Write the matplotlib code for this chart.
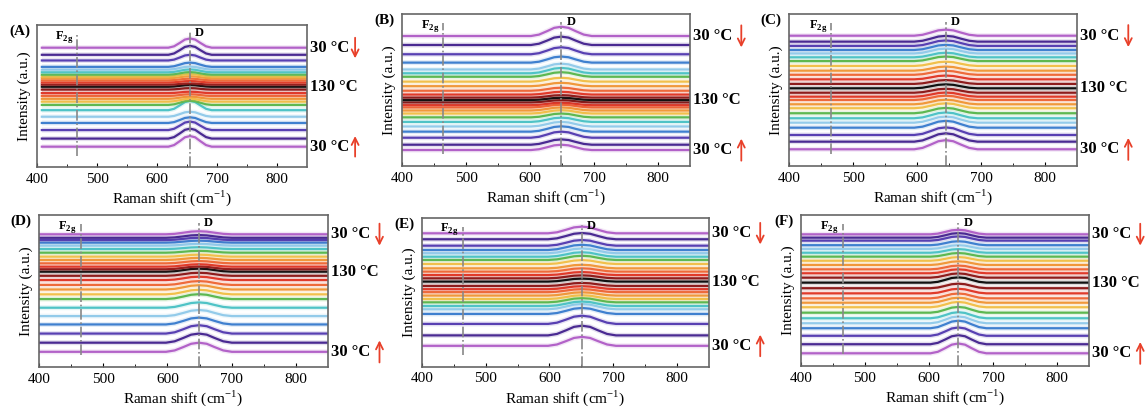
import matplotlib
matplotlib.use("Agg")
import matplotlib.pyplot as plt
import numpy as np

plt.rcParams['font.family'] = ['Liberation Serif', 'DejaVu Serif']
plt.rcParams['mathtext.fontset'] = 'custom'
plt.rcParams['mathtext.rm'] = 'Liberation Serif'
plt.rcParams['mathtext.bf'] = 'Liberation Serif:bold'

# panel letters and axes placement (figure fractions)
panels = ['(A)', '(B)', '(C)', '(D)', '(E)', '(F)']
boxes = [
    [0.0323, 0.5947, 0.2354, 0.3447],
    [0.3505, 0.5971, 0.2511, 0.3690],
    [0.6879, 0.5971, 0.2511, 0.3690],
    [0.0340, 0.1092, 0.2520, 0.3690],
    [0.3677, 0.1100, 0.2505, 0.3617],
    [0.6983, 0.1117, 0.2511, 0.3665],
]

# one colour per step, 30 C -> 130 C (black)
step_colors = ['#b262c8', '#4a2a92', '#5840b2', '#3f80cf', '#93cbea', '#4fc3c6',
               '#5db851', '#f1c04c', '#f0983b', '#ee6a3a', '#e03a2a', '#8e1c1c', '#111111']

# D-band position and F2g position read per panel (cm-1)
d_pos = [655, 649, 645, 649, 651, 646]
f2g_pos = [466, 464, 466, 465, 464, 465]
peak_width = [0.95, 1.25, 1.3, 1.35, 1.4, 1.15]

# baseline of each trace (axes fraction), heating bottom->130, then cooling 120->30
heat_A = [0.143, 0.20, 0.26, 0.31, 0.354, 0.40, 0.437, 0.46, 0.48, 0.50, 0.52, 0.545, 0.565]
cool_A = [0.58, 0.595, 0.61, 0.625, 0.638, 0.65, 0.667, 0.685, 0.705, 0.75, 0.79, 0.84]
heat_B = [0.105, 0.14, 0.186, 0.226, 0.26, 0.29, 0.32, 0.345, 0.365, 0.385, 0.40, 0.418, 0.434]
cool_B = [0.45, 0.47, 0.495, 0.525, 0.555, 0.587, 0.61, 0.635, 0.68, 0.735, 0.796, 0.855]
heat_C = [0.11, 0.16, 0.204, 0.252, 0.285, 0.314, 0.347, 0.38, 0.406, 0.434, 0.456, 0.482, 0.511]
cool_C = [0.54, 0.57, 0.60, 0.627, 0.658, 0.69, 0.715, 0.74, 0.763, 0.79, 0.818, 0.857]
heat_D = [0.10, 0.16, 0.22, 0.28, 0.335, 0.39, 0.447, 0.478, 0.51, 0.54, 0.572, 0.60, 0.627]
cool_D = [0.643, 0.66, 0.682, 0.704, 0.726, 0.752, 0.776, 0.798, 0.818, 0.835, 0.85, 0.873]
heat_E = [0.14, 0.21, 0.287, 0.354, 0.385, 0.407, 0.432, 0.454, 0.477, 0.50, 0.52, 0.542, 0.571]
cool_E = [0.593, 0.615, 0.638, 0.66, 0.689, 0.716, 0.738, 0.761, 0.783, 0.812, 0.855, 0.895]
heat_F = [0.084, 0.144, 0.20, 0.25, 0.283, 0.316, 0.353, 0.389, 0.419, 0.448, 0.481, 0.515, 0.552]
cool_F = [0.585, 0.614, 0.64, 0.669, 0.697, 0.724, 0.75, 0.775, 0.80, 0.83, 0.85, 0.872]

# D-band peak height above baseline (axes fraction)
amp_heat_A = [0.075, 0.07, 0.06, 0.04, 0.035, 0.065, 0.03, 0.02, 0.015, 0.012, 0.01, 0.01, 0.012]
amp_cool_A = [0.008, 0.01, 0.012, 0.014, 0.016, 0.018, 0.02, 0.022, 0.03, 0.04, 0.063, 0.065]
amp_heat_B = [0.035, 0.035, 0.04, 0.035, 0.03, 0.028, 0.025, 0.022, 0.02, 0.018, 0.016, 0.015, 0.015]
amp_cool_B = [0.016, 0.018, 0.02, 0.022, 0.025, 0.03, 0.035, 0.038, 0.04, 0.046, 0.055, 0.061]
amp_heat_C = [0.06, 0.055, 0.05, 0.045, 0.04, 0.038, 0.035, 0.032, 0.03, 0.028, 0.027, 0.026, 0.026]
amp_cool_C = [0.025, 0.025, 0.026, 0.027, 0.028, 0.03, 0.03, 0.032, 0.034, 0.036, 0.038, 0.04]
amp_heat_D = [0.06, 0.06, 0.055, 0.045, 0.04, 0.035, 0.032, 0.03, 0.028, 0.025, 0.022, 0.02, 0.02]
amp_cool_D = [0.018, 0.016, 0.015, 0.014, 0.013, 0.012, 0.012, 0.012, 0.013, 0.015, 0.018, 0.02]
amp_heat_E = [0.06, 0.065, 0.055, 0.04, 0.035, 0.03, 0.028, 0.025, 0.022, 0.02, 0.02, 0.02, 0.02]
amp_cool_E = [0.02, 0.02, 0.022, 0.024, 0.026, 0.028, 0.03, 0.032, 0.035, 0.038, 0.042, 0.045]
amp_heat_F = [0.065, 0.06, 0.055, 0.05, 0.045, 0.04, 0.038, 0.035, 0.033, 0.032, 0.03, 0.03, 0.035]
amp_cool_F = [0.028, 0.026, 0.025, 0.024, 0.024, 0.024, 0.024, 0.025, 0.026, 0.028, 0.03, 0.03]

# D-band shape: offset from centre (cm-1) and relative height
shape_dx = [-260, -38, -28, -18, -9, 0, 9, 18, 28, 38, 260]
shape_rel = [0.0, 0.0, 0.15, 0.52, 0.88, 1.0, 0.88, 0.52, 0.15, 0.0, 0.0]

heat_all = [heat_A, heat_B, heat_C, heat_D, heat_E, heat_F]
cool_all = [cool_A, cool_B, cool_C, cool_D, cool_E, cool_F]
amp_heat_all = [amp_heat_A, amp_heat_B, amp_heat_C, amp_heat_D, amp_heat_E, amp_heat_F]
amp_cool_all = [amp_cool_A, amp_cool_B, amp_cool_C, amp_cool_D, amp_cool_E, amp_cool_F]

arrow_red = '#e8402a'
arrow_style = dict(arrowstyle='->,head_length=0.5,head_width=0.25', color=arrow_red,
                   lw=1.3, shrinkA=0, shrinkB=0)

fig = plt.figure(figsize=(11.47, 4.12), dpi=100)

for i, name in enumerate(panels):
    ax = fig.add_axes(boxes[i])
    xs = d_pos[i] + np.array(shape_dx) * peak_width[i]
    rel = np.array(shape_rel)

    # heating traces then cooling traces (colour order reversed)
    traces = []
    for k, y0 in enumerate(heat_all[i]):
        traces.append((y0, amp_heat_all[i][k], step_colors[k]))
    for k, y0 in enumerate(cool_all[i]):
        traces.append((y0, amp_cool_all[i][k], step_colors[11 - k]))

    for y0, a, c in traces:
        ys = y0 + a * rel
        ax.plot(xs, ys, color=c, lw=3.6, alpha=0.15, solid_capstyle='butt')
        ax.plot(xs, ys, color=c, lw=1.6)

    # reference band positions
    ax.axvline(f2g_pos[i], ymin=0.08, ymax=0.94, color='#888888', ls='-.', lw=1.2)
    ax.axvline(d_pos[i], ymin=0.0, ymax=0.95, color='#888888', ls='-.', lw=1.2)
    ax.text(f2g_pos[i] - 6, 0.975, r'F$_{\mathbf{2g}}$', ha='right', va='top',
            fontsize=9, fontweight='bold')
    ax.text(d_pos[i] + 8, 0.985, 'D', ha='left', va='top', fontsize=9, fontweight='bold')

    ax.set_xlim(400, 850)
    ax.set_ylim(0, 1)
    ax.set_xticks([400, 500, 600, 700, 800])
    ax.set_xticks([450, 550, 650, 750], minor=True)
    ax.set_yticks([])
    ax.tick_params(axis='x', which='both', direction='in', labelsize=11, pad=4)
    ax.tick_params(axis='x', which='major', length=3)
    ax.tick_params(axis='x', which='minor', length=2)
    for s in ax.spines.values():
        s.set_color('#666666')
        s.set_linewidth(1.2)
    ax.set_xlabel('Raman shift (cm$^{-1}$)', fontsize=11, labelpad=2)
    ax.set_ylabel('Intensity (a.u.)', fontsize=11, labelpad=4)

    ax.text(-0.025, 1.0, name, transform=ax.transAxes, ha='right', va='top',
            fontsize=11, fontweight='bold')

    # temperature labels aligned with first, middle and last trace
    y_bot = heat_all[i][0]
    y_mid = heat_all[i][-1]
    y_top = cool_all[i][-1]
    ax.text(1.01, y_top, '30 °C', transform=ax.transAxes, ha='left', va='center',
            fontsize=12, fontweight='bold')
    ax.text(1.01, y_mid, '130 °C', transform=ax.transAxes, ha='left', va='center',
            fontsize=12, fontweight='bold')
    ax.text(1.01, y_bot, '30 °C', transform=ax.transAxes, ha='left', va='center',
            fontsize=12, fontweight='bold')
    ax.annotate('', xy=(1.178, y_top - 0.075), xytext=(1.178, y_top + 0.07),
                xycoords='axes fraction', textcoords='axes fraction',
                arrowprops=arrow_style, annotation_clip=False)
    ax.annotate('', xy=(1.178, y_bot + 0.075), xytext=(1.178, y_bot - 0.07),
                xycoords='axes fraction', textcoords='axes fraction',
                arrowprops=arrow_style, annotation_clip=False)

fig.savefig('out.png', dpi=100)
